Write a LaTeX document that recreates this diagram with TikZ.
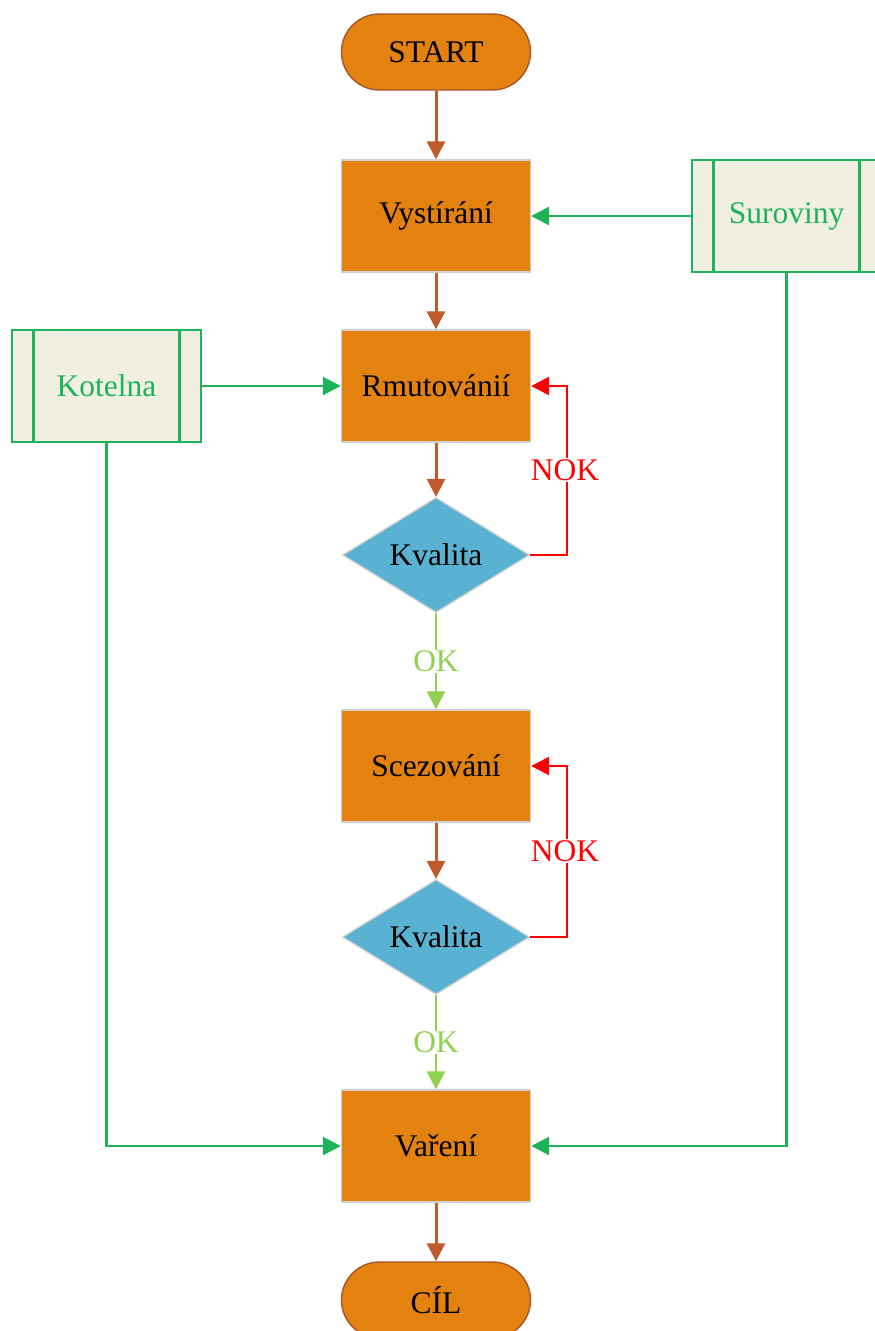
\documentclass[tikz,border=0pt]{standalone}
\usepackage{fontspec}
\setmainfont{Liberation Serif}
\usetikzlibrary{shapes.geometric,arrows.meta}

\definecolor{boxorange}{HTML}{E3820F}
\definecolor{termedge}{HTML}{A8562A}
\definecolor{flowbrown}{HTML}{BF5A2C}
\definecolor{decblue}{HTML}{5AB2D3}
\definecolor{extgreen}{HTML}{1DB35A}
\definecolor{extfill}{HTML}{F0EFE2}
\definecolor{okgreen}{HTML}{92D050}
\definecolor{nokred}{HTML}{FF0000}
\definecolor{softgray}{HTML}{D0D0D0}

\tikzset{
  txt/.style={font=\fontsize{31.5}{37}\selectfont},
  terminal/.style={txt, draw=termedge, line width=1.4pt, fill=boxorange,
    rounded corners=38pt, minimum width=189pt, minimum height=76pt, inner sep=0pt},
  stepbox/.style={txt, draw=softgray, line width=1.3pt, fill=boxorange,
    minimum width=189pt, minimum height=112pt, inner sep=0pt},
  decision/.style={txt, diamond, draw=softgray, line width=1.3pt, fill=decblue,
    minimum width=187pt, minimum height=110pt, inner sep=0pt},
  extbox/.style={txt, text=extgreen, draw=extgreen, line width=2.6pt, fill=extfill,
    minimum width=189pt, minimum height=112pt, inner sep=0pt},
  tip/.style={-{Triangle[length=18pt,width=18pt]}},
  flow/.style={tip, draw=flowbrown, line width=3pt},
  feed/.style={tip, draw=extgreen, line width=2.7pt},
  back/.style={tip, draw=nokred, line width=2.7pt},
  okline/.style={tip, draw=okgreen, line width=2.7pt},
  flag/.style={txt, fill=white, inner sep=1pt},
}

\begin{document}
\begin{tikzpicture}[x=1pt,y=-1pt]
\useasboundingbox (0,0) rectangle (875,1331);

% main column
\node[terminal] (start) at (436,52) {START};
\node[stepbox] (vys) at (436,216) {Vystírání};
\node[stepbox] (rmu) at (436,386) {Rmutovánií};
\node[decision] (kv1) at (436,555) {Kvalita};
\node[stepbox] (sce) at (436,766) {Scezování};
\node[decision] (kv2) at (436,937) {Kvalita};
\node[stepbox] (var) at (436,1146) {Vaření};
\node[terminal] (cil) at (436,1300) {CÍL};

% external inputs with side bars
\node[extbox] (sur) at (786.5,216) {Suroviny};
\node[extbox] (kot) at (106.5,386) {Kotelna};
\foreach \n in {sur,kot}{
  \draw[extgreen, line width=2.6pt]
    ([xshift=23pt]\n.north west) -- ([xshift=23pt]\n.south west)
    ([xshift=-23pt]\n.north east) -- ([xshift=-23pt]\n.south east);
}

% main flow
\draw[flow] (start) -- (vys);
\draw[flow] (vys) -- (rmu);
\draw[flow] (rmu) -- (kv1);
\draw[flow] (sce) -- (kv2);
\draw[flow] (var) -- (cil);

% inputs
\draw[feed] (sur.west) -- (vys.east);
\draw[feed] (kot.east) -- (rmu.west);
\draw[feed] (kot.south) |- (var.west);
\draw[feed] (sur.south) |- (var.east);

% quality loops
\coordinate (r1) at (567,555);
\coordinate (r2) at (567,937);
\draw[back] (kv1.east) -- (r1) |- (rmu.east);
\draw[back] (kv2.east) -- (r2) |- (sce.east);
\node[flag, text=nokred] (nok1) at (565,470) {NOK};
\node[flag, text=nokred] (nok2) at (565,851) {NOK};

% pass branches
\draw[okline] (kv1.south) -- (sce.north)
  node[flag, text=okgreen, midway] (ok1) {OK};
\draw[okline] (kv2.south) -- (var.north)
  node[flag, text=okgreen, midway] (ok2) {OK};
\end{tikzpicture}
\end{document}
